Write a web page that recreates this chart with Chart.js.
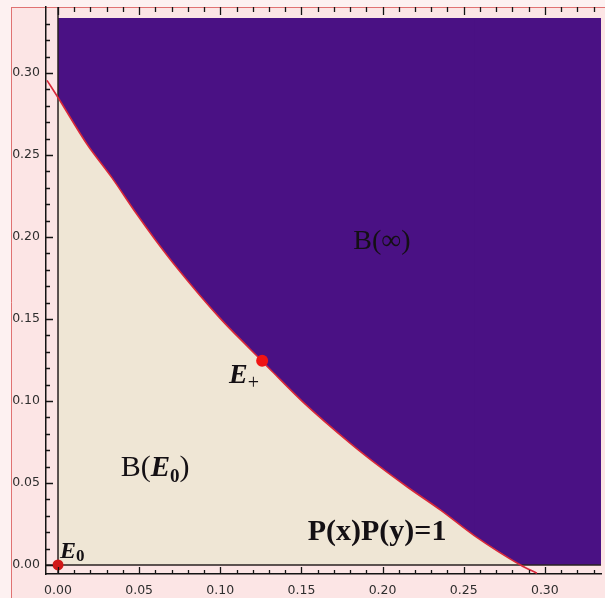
<!DOCTYPE html>
<html>
<head>
<meta charset="utf-8">
<script src="https://cdn.jsdelivr.net/npm/chart.js@4.4.0/dist/chart.umd.min.js"></script>
<style>
  html, body { margin: 0; padding: 0; background: #fce5e5; }
  #wrap { width: 605px; height: 598px; position: relative; }
</style>
</head>
<body>
<div id="wrap"><canvas id="basin"></canvas></div>
<script>
// boundary P(x)P(y)=1 between the two basins
const boundaryX = [0, 0.0179, 0.0333, 0.0474, 0.0598, 0.0739, 0.0998, 0.1183, 0.1250, 0.1317, 0.1505, 0.1805, 0.1985, 0.2155, 0.2360, 0.2565, 0.2850];
const boundaryY = [0.2850, 0.2565, 0.2360, 0.2155, 0.1985, 0.1805, 0.1505, 0.1317, 0.1250, 0.1183, 0.0998, 0.0739, 0.0598, 0.0474, 0.0333, 0.0179, 0];
// the red curve runs on a little past the plot region
const lineStart = [-0.0068, 0.2955];
const lineEnd = [0.2951, -0.0050];
// fixed points
const pointE0 = [0, 0];
const pointEplus = [0.1258, 0.1245];
// axes
const tickValues = [0, 0.01, 0.02, 0.03, 0.04, 0.05, 0.06, 0.07, 0.08, 0.09, 0.10, 0.11, 0.12, 0.13, 0.14, 0.15, 0.16,
  0.17, 0.18, 0.19, 0.20, 0.21, 0.22, 0.23, 0.24, 0.25, 0.26, 0.27, 0.28, 0.29, 0.30, 0.31, 0.32, 0.33];
const tickLabels = ['0.00', '0.05', '0.10', '0.15', '0.20', '0.25', '0.30'];
const xRange = [-0.0074, 0.3346];
const yRange = [-0.0055, 0.3402];
const plotTop = 0.3335;

const toPts = (xs, ys) => xs.map((x, i) => ({ x: x, y: ys[i] }));
const curve = toPts(boundaryX, boundaryY);
// right-hand part of B(inf): from the last chord of the curve out to the edge
const n = curve.length;
const purpleStrip = [curve[n - 2], curve[n - 1], { x: xRange[1], y: 0 }];
const redCurve = [{ x: lineStart[0], y: lineStart[1] }].concat(curve, [{ x: lineEnd[0], y: lineEnd[1] }]);

const serif = '"Liberation Serif", "DejaVu Serif", serif';
const notes = [
  { x: 0.1996, y: 0.1927, align: 'center', runs: [['B(\u221E)', 'normal 28px ' + serif, 0]] },
  { x: 0.0598, y: 0.0543, align: 'center', runs: [['B(', 'normal 30px ' + serif, 0], ['E', 'italic bold 29px ' + serif, 0],
      ['0', 'bold 19px ' + serif, 6], [')', 'normal 30px ' + serif, 0]] },
  { x: 0.1966, y: 0.0152, align: 'center', runs: [['P(x)P(y)=1', 'bold 30px ' + serif, 0]] },
  { x: 0.1054, y: 0.111, align: 'left', runs: [['E', 'italic bold 28px ' + serif, 0], ['+', 'normal 20px ' + serif, 6]] },
  { x: 0.0012, y: 0.0043, align: 'left', runs: [['E', 'italic bold 24px ' + serif, 0], ['0', 'bold 17px ' + serif, 3]] }
];

const decor = {
  id: 'decor',
  beforeDraw(chart) {
    const c = chart.ctx;
    c.save();
    c.fillStyle = '#fce5e5';
    c.fillRect(0, 0, chart.width, chart.height);
    c.fillStyle = '#fdf1f1';
    c.fillRect(0, 0, 11, chart.height);
    c.fillRect(0, 0, chart.width, 7);
    c.strokeStyle = '#e07272';
    c.lineWidth = 1;
    c.beginPath();
    c.moveTo(11.5, 7); c.lineTo(11.5, chart.height);
    c.moveTo(11, 7.5); c.lineTo(chart.width, 7.5);
    c.stroke();
    c.restore();
  },
  afterDatasetDraw(chart, args) {
    // the axes through the origin, over the fills but under the curve
    if (args.index !== 2) return;
    const c = chart.ctx, xs = chart.scales.x, ys = chart.scales.y, a = chart.chartArea;
    const x0 = xs.getPixelForValue(0), y0 = ys.getPixelForValue(0);
    c.save();
    c.strokeStyle = '#2a2222';
    c.lineWidth = 1.5;
    c.beginPath();
    c.moveTo(x0, a.top); c.lineTo(x0, a.bottom);
    c.moveTo(a.left, y0); c.lineTo(a.right, y0);
    c.stroke();
    c.restore();
  },
  afterDatasetsDraw(chart) {
    const c = chart.ctx, xs = chart.scales.x, ys = chart.scales.y;
    c.save();
    c.fillStyle = '#141014';
    c.textBaseline = 'alphabetic';
    notes.forEach(note => {
      let w = 0;
      note.runs.forEach(r => { c.font = r[1]; w += c.measureText(r[0]).width; });
      let px = xs.getPixelForValue(note.x);
      const py = ys.getPixelForValue(note.y);
      if (note.align === 'center') px -= w / 2;
      note.runs.forEach(r => {
        c.font = r[1];
        c.fillText(r[0], px, py + r[2]);
        px += c.measureText(r[0]).width;
      });
    });
    c.restore();
  },
  afterDraw(chart) {
    // inward tick marks on the frame: left, bottom and top
    const c = chart.ctx, xs = chart.scales.x, ys = chart.scales.y, a = chart.chartArea;
    const top = ys.getPixelForValue(yRange[1]);
    c.save();
    c.strokeStyle = '#141414';
    c.lineWidth = 1.3;
    c.beginPath();
    tickValues.forEach((v, i) => {
      const len = i % 5 === 0 ? 7 : 4;
      const px = Math.round(xs.getPixelForValue(v)) + 0.5;
      c.moveTo(px, a.bottom); c.lineTo(px, a.bottom - len);
      c.moveTo(px, top); c.lineTo(px, top + len + 1);
      const py = Math.round(ys.getPixelForValue(v)) + 0.5;
      c.moveTo(a.left, py); c.lineTo(a.left + len, py);
    });
    c.stroke();
    c.restore();
  }
};

function axis(range, fitKey, fitSize, pad) {
  return {
    type: 'linear',
    min: range[0],
    max: range[1],
    afterBuildTicks: scale => { scale.ticks = tickValues.map(v => ({ value: v })); },
    afterFit: scale => {
      scale[fitKey] = fitSize;
      scale.paddingTop = 0; scale.paddingBottom = 0;
      scale.paddingLeft = 0; scale.paddingRight = 0;
    },
    grid: { display: false, drawTicks: false },
    border: { display: true, color: '#141414', width: 1.5 },
    ticks: {
      autoSkip: false,
      maxRotation: 0,
      padding: pad,
      color: '#2e2e2e',
      font: { family: '"DejaVu Sans", sans-serif', size: 12.5 },
      callback: (v, i) => (i % 5 === 0 && i / 5 < tickLabels.length) ? tickLabels[i / 5] : ''
    }
  };
}

new Chart(document.getElementById('basin'), {
  type: 'line',
  data: {
    datasets: [
      {
        label: 'fixed points',
        data: [{ x: pointEplus[0], y: pointEplus[1] }, { x: pointE0[0], y: pointE0[1] }],
        showLine: false,
        pointRadius: [6, 5.5],
        pointBackgroundColor: ['#f01414', '#d01818'],
        pointBorderWidth: 0
      },
      {
        label: 'P(x)P(y)=1',
        data: redCurve,
        borderColor: '#d8283a',
        borderWidth: 1.6,
        cubicInterpolationMode: 'monotone',
        pointRadius: 0,
        fill: false
      },
      {
        label: 'B(\u221E) edge',
        data: purpleStrip,
        borderWidth: 0,
        borderColor: 'rgba(0,0,0,0)',
        pointRadius: 0,
        backgroundColor: '#4a1184',
        fill: { value: plotTop }
      },
      {
        label: 'B(\u221E)',
        data: curve,
        borderWidth: 0,
        borderColor: 'rgba(0,0,0,0)',
        cubicInterpolationMode: 'monotone',
        pointRadius: 0,
        backgroundColor: '#4a1184',
        fill: { value: plotTop }
      },
      {
        label: 'B(E0)',
        data: curve,
        borderWidth: 0,
        borderColor: 'rgba(0,0,0,0)',
        cubicInterpolationMode: 'monotone',
        pointRadius: 0,
        backgroundColor: '#efe6d5',
        fill: { value: 0 }
      }
    ]
  },
  options: {
    responsive: true,
    maintainAspectRatio: false,
    animation: false,
    layout: { autoPadding: false, padding: { top: 7, right: 4, left: 0, bottom: 0 } },
    plugins: { legend: { display: false }, tooltip: { enabled: false } },
    scales: {
      x: axis(xRange, 'height', 24, 9),
      y: axis(yRange, 'width', 46, 6)
    }
  },
  plugins: [decor]
});
</script>
</body>
</html>
